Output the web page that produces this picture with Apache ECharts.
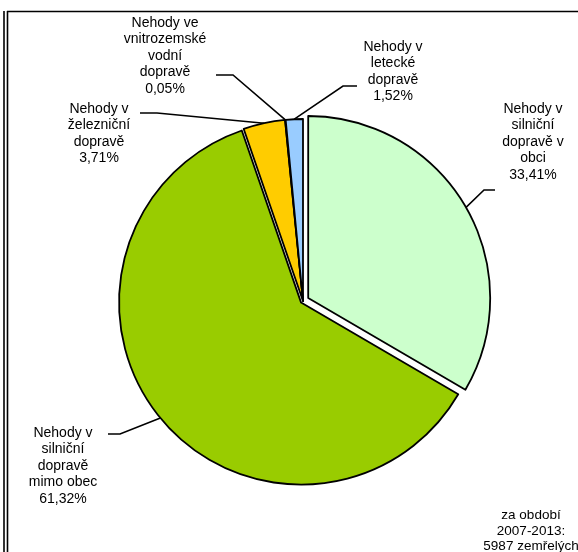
<!DOCTYPE html>
<html>
<head>
<meta charset="utf-8">
<script src="https://cdn.jsdelivr.net/npm/echarts@6/dist/echarts.min.js"></script>
<style>
  html, body { margin: 0; padding: 0; background: #fff; }
  #chart { width: 578px; height: 552px; }
</style>
</head>
<body>
<div id="chart"></div>
<script>
// Fatal accidents by transport mode, 2007–2013 (share of deaths, %)
const categories = [
  'Nehody v\nsilniční\ndopravě v\nobci',
  'Nehody v\nsilniční\ndopravě\nmimo obec',
  'Nehody v\nželezniční\ndopravě',
  'Nehody ve\nvnitrozemské\nvodní\ndopravě',
  'Nehody v\nletecké\ndopravě'
];
const shares = [33.41, 61.32, 3.71, 0.05, 1.52];
const sliceColors = ['#CCFFCC', '#99CC00', '#FFCC00', '#333399', '#99CCFF'];
const explodeBy = [6, 2.5, 0, 0, 0];   // how far each slice is pulled out, px
const footnoteLines = ['za období', '2007-2013:', '5987 zemřelých'];

// Label blocks: centre x, first-line centre y, and the elbow of the leader line
const labelSpots = [
  { cx: 533, y: 109, elbow: [[484, 190], [495, 190]] },
  { cx: 63,  y: 433, elbow: [[120, 434], [108, 434]] },
  { cx: 99,  y: 109, elbow: [[157, 113], [140, 113]] },
  { cx: 165, y: 23,  elbow: [[233, 75], [216, 75]] },
  { cx: 393, y: 47,  elbow: [[343, 86], [357, 86]] }
];
const LINE_H = 16.5;
const FONT = '"Liberation Sans", Arial, sans-serif';
const CENTER = [303, 301];
const RADIUS = 182;

const fmtPct = v => v.toFixed(2).replace('.', ',') + '%';

// centre of each slice after pulling it out along its bisector
const total = shares.reduce((a, b) => a + b, 0);
function sliceCenter(idx) {
  const before = shares.slice(0, idx).reduce((a, b) => a + b, 0);
  const mid = (90 - (before + shares[idx] / 2) / total * 360) * Math.PI / 180;
  return [
    CENTER[0] + Math.cos(mid) * explodeBy[idx],
    CENTER[1] - Math.sin(mid) * explodeBy[idx]
  ];
}

const hidden = { color: 'rgba(0,0,0,0)', borderWidth: 0 };

// One pie per slice: all share the same angles, only slice `idx` is painted
function pieSeries(idx) {
  return {
    type: 'pie',
    center: sliceCenter(idx),
    radius: RADIUS,
    startAngle: 90,
    clockwise: true,
    avoidLabelOverlap: false,
    silent: true,
    itemStyle: { borderColor: '#000', borderWidth: 1.8 },
    label: {
      show: true,
      position: 'outside',
      color: '#000',
      fontFamily: FONT,
      fontSize: 14,
      lineHeight: LINE_H,
      align: 'center',
      formatter: p => p.name + '\n' + fmtPct(p.value)
    },
    labelLine: { show: true, lineStyle: { color: '#000', width: 1.6 } },
    labelLayout: params => {
      const s = labelSpots[params.dataIndex];
      const start = params.labelLinePoints ? params.labelLinePoints[0] : s.elbow[0];
      return {
        x: s.cx,
        y: s.y - LINE_H / 2,
        align: 'center',
        verticalAlign: 'top',
        labelLinePoints: [start, s.elbow[0], s.elbow[1]]
      };
    },
    data: categories.map((name, i) => {
      const on = i === idx;
      return {
        name,
        value: shares[i],
        itemStyle: on ? { color: sliceColors[i] } : hidden,
        label: { show: on },
        labelLine: { show: on }
      };
    })
  };
}

const chart = echarts.init(document.getElementById('chart'), null, { renderer: 'canvas' });

chart.setOption({
  animation: false,
  backgroundColor: '#ffffff',
  series: categories.map((_, i) => pieSeries(i)),
  graphic: [
    { type: 'line', shape: { x1: 4, y1: 11, x2: 4, y2: 552 }, style: { stroke: '#000', lineWidth: 1.6 } },
    { type: 'line', shape: { x1: 7.5, y1: 11, x2: 7.5, y2: 552 }, style: { stroke: '#000', lineWidth: 1.6 } },
    { type: 'line', shape: { x1: 7, y1: 11.5, x2: 578, y2: 11.5 }, style: { stroke: '#000', lineWidth: 1.6 } },
    {
      type: 'text',
      x: 531, y: 516 - 8,
      style: {
        text: footnoteLines.join('\n'),
        fill: '#000',
        font: '13.5px ' + FONT,
        lineHeight: 15.5,
        align: 'center',
        verticalAlign: 'top'
      }
    }
  ]
});
</script>
</body>
</html>
